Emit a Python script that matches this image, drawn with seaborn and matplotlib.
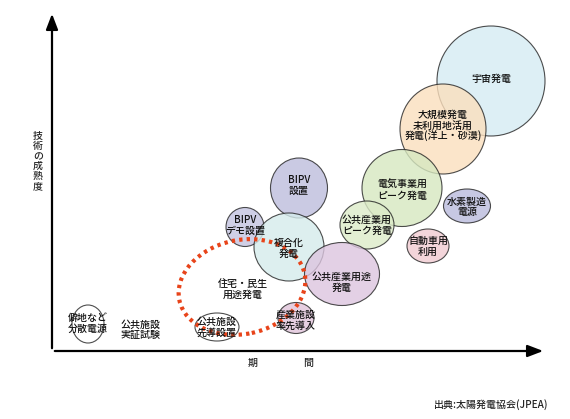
import matplotlib
matplotlib.use('Agg')
import matplotlib.pyplot as plt
from matplotlib.patches import Ellipse, FancyArrowPatch
import seaborn as sns
import pandas as pd

# positions: x = period, y = technical maturity (origin at the arrow corner)
labels = ['宇宙発電', '大規模発電\n未利用地活用\n発電(洋上・砂漠)', '電気事業用\nピーク発電',
          '公共産業用\nピーク発電', '水素製造\n電源', '自動車用\n利用', 'BIPV\n設置',
          'BIPV\nデモ設置', '複合化\n発電', '公共産業用途\n発電', '産業施設\n率先導入',
          '公共施設\n先導設置', '僻地など\n分散電源']
period = [439, 391, 350, 315, 415, 376, 247, 193, 237, 290, 244, 165, 36]
maturity = [270, 222, 163, 126, 145, 105, 163, 124, 104, 77, 33, 24, 27]
widths = [108, 86, 80, 54, 47, 42, 57, 38, 70, 75, 36, 44, 32]
heights = [110, 90, 77, 48, 34, 34, 60, 39, 68, 63, 31, 28, 38]
fills = ['#d5ebf3', '#fbdfbd', '#d6e8c0', '#dcebc8', '#b9bbdd', '#f1cbd1', '#bdbddc',
         '#c3c3e0', '#d5ecec', '#dcc5df', '#e0c3da', '#ffffff', '#ffffff']
label_dy = [2, 3, -2, 0, -1, 0, 3, 2, -1, -8, -2, 0, 1]

text_only = ['公共施設\n実証試験', '住宅・民生\n用途発電']
text_x = [89, 191]
text_y = [21, 62]

housing_zone = dict(x=190, y=64, w=128, h=94, angle=12)

df = pd.DataFrame(dict(label=labels, period=period, maturity=maturity,
                       w=widths, h=heights, fill=fills, dy=label_dy))

sns.set_style('white')
plt.rcParams['font.family'] = ['Noto Sans CJK JP', 'DejaVu Sans']
FS = 7.2
FW = 'medium'

fig = plt.figure(figsize=(5.7, 4.19), dpi=100)
ax = fig.add_axes([0, 0, 1, 1])
ax.set_xlim(-52, 518)
ax.set_ylim(-68, 351)
ax.set_aspect('equal')
ax.axis('off')

for _, r in df.iterrows():
    ax.add_patch(Ellipse((r.period, r.maturity), r.w, r.h, facecolor=r.fill,
                         edgecolor='#222222', lw=0.8, alpha=0.8, zorder=2))
for _, r in df.iterrows():
    ax.text(r.period, r.maturity + r.dy, r.label, ha='center', va='center',
            fontsize=FS, fontweight=FW, linespacing=1.1, color='#111111', zorder=5)

for t, x, y in zip(text_only, text_x, text_y):
    ax.text(x, y, t, ha='center', va='center', fontsize=FS, fontweight=FW,
            linespacing=1.1, color='#111111', zorder=5)

ax.add_patch(Ellipse((housing_zone['x'], housing_zone['y']), housing_zone['w'],
                     housing_zone['h'], angle=housing_zone['angle'], fill=False,
                     edgecolor='#e8441a', lw=3, ls=(0, (0.8, 1.0)), zorder=4))

# axes arrows
style = '-|>,head_length=4.7,head_width=1.8'
ax.add_patch(FancyArrowPatch((0, 0), (0, 340), arrowstyle=style,
                             mutation_scale=2, lw=1.6, color='black', zorder=6))
ax.add_patch(FancyArrowPatch((0, 0), (494, 0), arrowstyle=style,
                             mutation_scale=2, lw=1.6, color='black', zorder=6))

ax.text(-14, 190, '技\n術\nの\n成\n熟\n度', ha='center', va='center', fontsize=FS,
        fontweight=FW, linespacing=1.0)
ax.text(201, -12, '期', ha='center', va='center', fontsize=FS, fontweight=FW)
ax.text(256, -12, '間', ha='center', va='center', fontsize=FS, fontweight=FW)
ax.text(496, -54, '出典:太陽発電協会(JPEA)', ha='right', va='center', fontsize=FS,
        fontweight=FW)

fig.savefig('out.png', dpi=100)
